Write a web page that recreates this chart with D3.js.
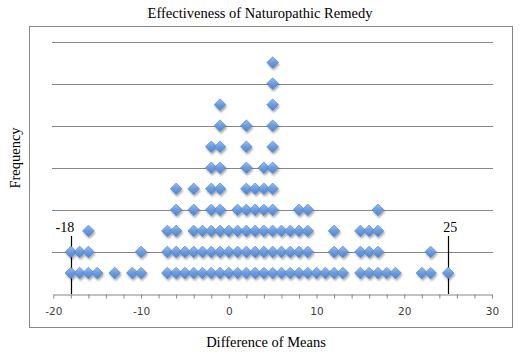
<!DOCTYPE html>
<html>
<head>
<meta charset="utf-8">
<script src="https://cdn.jsdelivr.net/npm/d3@7"></script>
<style>
  html, body { margin: 0; padding: 0; background: #fff; }
  svg { display: block; }
</style>
</head>
<body>
<script>
// ---- data ----
const diffValues = [-18,-17,-16,-15,-13,-11,-10,-7,-6,-5,-4,-3,-2,-1,0,1,2,3,4,5,6,7,8,9,10,11,12,13,15,16,17,18,19,22,23,25];
const frequencies = [2,2,3,1,1,1,2,3,5,2,5,3,7,9,3,4,8,5,6,11,3,3,4,4,1,1,3,2,3,3,4,1,1,1,2,1];
const xTicks = [-20,-18,-16,-14,-12,-10,-8,-6,-4,-2,0,2,4,6,8,10,12,14,16,18,20,22,24,26,28,30];
const yGrid = [2,4,6,8,10,12];
const markerValues = [-18, 25];
const markerLabels = ["-18", "25"];
const chartTitle = "Effectiveness of Naturopathic Remedy";
const xTitle = "Difference of Means";
const yTitle = "Frequency";

// ---- drawing ----
const W = 527, H = 363;
const svg = d3.select("body").append("svg").attr("width", W).attr("height", H);

const defs = svg.append("defs");
const grad = defs.append("linearGradient").attr("id", "dg").attr("x1", 0).attr("y1", 0).attr("x2", 0).attr("y2", 1);
grad.append("stop").attr("offset", "0%").attr("stop-color", "#9bbfec");
grad.append("stop").attr("offset", "50%").attr("stop-color", "#6a9be0");
grad.append("stop").attr("offset", "100%").attr("stop-color", "#4f84cf");
const flt = defs.append("filter").attr("id", "sh").attr("x", "-50%").attr("y", "-50%").attr("width", "200%").attr("height", "200%");
flt.append("feGaussianBlur").attr("in", "SourceAlpha").attr("stdDeviation", 1.2).attr("result", "b");
flt.append("feOffset").attr("in", "b").attr("dx", 1).attr("dy", 1.5).attr("result", "o");
flt.append("feComponentTransfer").attr("in", "o").attr("result", "o2")
  .append("feFuncA").attr("type", "linear").attr("slope", 0.35);
const fm = flt.append("feMerge");
fm.append("feMergeNode").attr("in", "o2");
fm.append("feMergeNode").attr("in", "SourceGraphic");

// frame
svg.append("rect").attr("x", 29.5).attr("y", 26.5).attr("width", 483).attr("height", 301)
  .attr("fill", "none").attr("stroke", "#868686").attr("stroke-width", 1);

const x = d3.scaleLinear().domain([-20, 30]).range([53.3, 492]);
const y = d3.scaleLinear().domain([0, 12]).range([294, 41.5]);

// gridlines
svg.append("g").selectAll("line").data(yGrid).join("line")
  .attr("x1", 52).attr("x2", 493)
  .attr("y1", d => Math.round(y(d)) + 0.5).attr("y2", d => Math.round(y(d)) + 0.5)
  .attr("stroke", "#868686").attr("stroke-width", 1);

// x axis
const axis = d3.axisBottom(x).tickValues(xTicks)
  .tickFormat(d => (d % 10 === 0 ? String(d) : "")).tickSizeInner(4).tickSizeOuter(0).tickPadding(9);
const gx = svg.append("g").attr("transform", `translate(0,${Math.round(y(0)) + 0.5})`).call(axis);
gx.select(".domain").attr("stroke", "#868686");
gx.selectAll(".tick line").attr("stroke", "#868686");
gx.selectAll(".tick text").attr("font-family", "DejaVu Sans, Verdana, sans-serif")
  .attr("font-size", "10.5px").attr("fill", "#404040");

// marker lines
svg.append("g").selectAll("line").data(markerValues).join("line")
  .attr("x1", d => Math.round(x(d)) + 0.5).attr("x2", d => Math.round(x(d)) + 0.5)
  .attr("y1", 236).attr("y2", Math.round(y(0)))
  .attr("stroke", "#000").attr("stroke-width", 1.2);
svg.append("g").selectAll("text").data(markerValues).join("text")
  .attr("x", (d, i) => x(d) + (i === 0 ? -6 : 2)).attr("y", 232)
  .attr("text-anchor", "middle")
  .attr("font-family", "Liberation Serif, Times New Roman, serif").attr("font-size", "14px")
  .attr("fill", "#000").text((d, i) => markerLabels[i]);

// points
const pts = [];
diffValues.forEach((v, i) => {
  for (let k = 1; k <= frequencies[i]; k++) pts.push({ v, k });
});
const s = 5.8;
svg.append("g").attr("filter", "url(#sh)").selectAll("path").data(pts).join("path")
  .attr("transform", d => `translate(${x(d.v)},${y(d.k)})`)
  .attr("d", `M0,${-s}L${s},0L0,${s}L${-s},0Z`)
  .attr("fill", "url(#dg)").attr("stroke", "#4a7ebb").attr("stroke-width", 0.6);

// titles
svg.append("text").attr("x", 260).attr("y", 18).attr("text-anchor", "middle")
  .attr("font-family", "Liberation Serif, Times New Roman, serif").attr("font-size", "14.5px")
  .attr("fill", "#000").text(chartTitle);
svg.append("text").attr("x", 266).attr("y", 347).attr("text-anchor", "middle")
  .attr("font-family", "Liberation Serif, Times New Roman, serif").attr("font-size", "14.5px")
  .attr("fill", "#000").text(xTitle);
svg.append("text").attr("transform", "translate(20,158) rotate(-90)").attr("text-anchor", "middle")
  .attr("font-family", "Liberation Serif, Times New Roman, serif").attr("font-size", "14.5px")
  .attr("fill", "#000").text(yTitle);
</script>
</body>
</html>
